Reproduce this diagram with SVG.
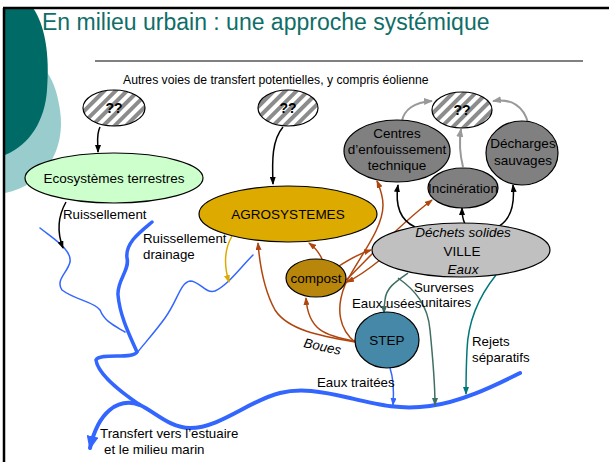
<svg xmlns="http://www.w3.org/2000/svg" width="609" height="462" viewBox="0 0 609 462">
<defs>
<style>
text{font-family:"Liberation Sans",Arial,sans-serif;fill:#000}
.lbl{font-size:13.3px}
.nt{font-size:13.5px;text-anchor:middle}
.q{font-size:14px;font-weight:bold;text-anchor:middle}
.it{font-style:italic}
.node{stroke:#000;stroke-width:1.2}
.c{fill:none;stroke-width:1.5}
.blk{stroke:#000}
.brn{stroke:#b0460e}
.tl1{stroke:#3f6e62}
.tl2{stroke:#00787a}
.blu{stroke:#3366ff}
.yel{stroke:#ddaa00}
.gry{stroke:#999;stroke-width:2}
</style>
<pattern id="hatch" width="8" height="8" patternUnits="userSpaceOnUse" patternTransform="rotate(45)">
<rect width="8" height="8" fill="#fff"/>
<rect width="4" height="8" fill="#8c8c8c"/>
</pattern>
<marker id="mBlk" markerUnits="userSpaceOnUse" markerWidth="8" markerHeight="6" refX="7" refY="3" orient="auto"><path d="M0,0 L8,3 L0,6 Z" fill="#000"/></marker>
<marker id="mBrn" markerUnits="userSpaceOnUse" markerWidth="8" markerHeight="6" refX="7" refY="3" orient="auto"><path d="M0,0 L8,3 L0,6 Z" fill="#b0460e"/></marker>
<marker id="mTl1" markerUnits="userSpaceOnUse" markerWidth="8" markerHeight="6" refX="7" refY="3" orient="auto"><path d="M0,0 L8,3 L0,6 Z" fill="#3f6e62"/></marker>
<marker id="mTl2" markerUnits="userSpaceOnUse" markerWidth="8" markerHeight="6" refX="7" refY="3" orient="auto"><path d="M0,0 L8,3 L0,6 Z" fill="#00787a"/></marker>
<marker id="mBlu" markerUnits="userSpaceOnUse" markerWidth="8" markerHeight="6" refX="7" refY="3" orient="auto"><path d="M0,0 L8,3 L0,6 Z" fill="#3366ff"/></marker>
<marker id="mYel" markerUnits="userSpaceOnUse" markerWidth="8" markerHeight="6" refX="7" refY="3" orient="auto"><path d="M0,0 L8,3 L0,6 Z" fill="#ddaa00"/></marker>
<marker id="mGry" markerUnits="userSpaceOnUse" markerWidth="9" markerHeight="7" refX="8" refY="3.5" orient="auto"><path d="M0,0 L9,3.5 L0,7 Z" fill="#999"/></marker>
<marker id="mRiver" markerUnits="userSpaceOnUse" markerWidth="14" markerHeight="12" refX="12" refY="6" orient="auto"><path d="M0,0 L14,6 L0,12 Z" fill="#3366ff"/></marker>
</defs>
<rect width="609" height="462" fill="#fff"/>
<!-- slide decoration -->
<g id="decor">
<path d="M5,60 C40,50 55,75 60,110 C66,150 45,185 5,193 Z" fill="#99cccc"/>
<path d="M5,8 L33,8 C45,25 50,55 47,90 C45,120 30,145 5,155 Z" fill="#006a66"/>
<line x1="3" y1="8" x2="609" y2="8" stroke="#000" stroke-width="2.5"/>
<line x1="4" y1="8" x2="4" y2="462" stroke="#000" stroke-width="2.5"/>
<line x1="95" y1="61" x2="583" y2="61" stroke="#808080" stroke-width="2"/>
<text x="42" y="30" style="font-size:23px;fill:#0f6e68">En milieu urbain : une approche systémique</text>
<text x="123" y="84" style="font-size:12.2px">Autres voies de transfert potentielles, y compris éolienne</text>
</g>
<!-- rivers -->
<g id="rivers" fill="none" stroke="#3366ff" stroke-linecap="round">
<path d="M40,228 C55,240 72,250 70,262 C68,272 55,280 62,290 C75,300 95,302 100,310 C105,322 115,326 125,332" stroke-width="1.5"/>
<path d="M253,255 C240,268 228,285 215,291 C205,294 200,281 190,281 C180,283 178,300 165,318 C155,332 143,345 137,353" stroke-width="1.5"/>
<path d="M152,222 C140,232 125,243 127,258 C130,270 117,280 118,295 C120,318 132,340 137,352 C133,360 100,352 96,360 C98,375 125,395 140,405" stroke-width="3.5"/>
<path d="M520,373 C490,388 460,402 430,406 C400,410 380,405 350,398 C320,391 300,388 280,393 C250,400 220,428 190,428 C170,428 155,412 140,405 C118,397 98,412 90,448" stroke-width="4" marker-end="url(#mRiver)"/>
</g>
<!-- connectors -->
<g id="connectors">
<path class="c blk" d="M100,127 C96,135 98,142 98,152" marker-end="url(#mBlk)"/>
<path class="c blk" d="M283,127 C272,140 272,160 273,184" marker-end="url(#mBlk)"/>
<path class="c blk" d="M66,202 C57,218 58,235 63,248" marker-end="url(#mBlk)"/>
<path class="c yel" d="M232,236 C224,250 224,266 229,282" marker-end="url(#mYel)"/>
<path class="c brn" d="M355,342 C320,336 288,330 275,310 C264,290 260,268 258,243" marker-end="url(#mBrn)"/>
<path class="c brn" d="M355,341 C325,336 308,330 306,298" marker-end="url(#mBrn)"/>
<path class="c brn" d="M322,259 C318,250 313,246 309,243" marker-end="url(#mBrn)"/>
<path class="c brn" d="M355,342 C340,330 335,310 345,285 C358,258 383,230 383,205 C383,195 380,188 377,181" marker-end="url(#mBrn)"/>
<path class="c brn" d="M346,280 C365,262 395,228 432,200" marker-end="url(#mBrn)"/>
<path class="c brn" d="M336,268 C348,260 358,254 371,250" marker-end="url(#mBrn)"/>
<path class="c brn" d="M380,260 C370,268 360,276 347,282" marker-end="url(#mBrn)"/>
<path class="c blk" d="M415,227 C400,220 395,205 398,185" marker-end="url(#mBlk)"/>
<path class="c blk" d="M465,224 C462,218 462,214 462,208" marker-end="url(#mBlk)"/>
<path class="c blk" d="M498,227 C510,220 515,205 513,185" marker-end="url(#mBlk)"/>
<path class="c gry" d="M463,167 C460,155 459,142 461,129" marker-end="url(#mGry)"/>
<path class="c gry" d="M402,121 C404,110 414,102 432,101" marker-end="url(#mGry)"/>
<path class="c gry" d="M528,123 C524,107 512,98 493,101" marker-end="url(#mGry)"/>
<path class="c tl1" d="M408,273 C395,282 386,288 385,300 C384,306 384,308 384,313" marker-end="url(#mTl1)"/>
<path class="c tl1" d="M398,278 C415,290 428,305 430,330 C433,360 435,385 435,405" marker-end="url(#mTl1)"/>
<path class="c tl2" d="M496,275 C480,295 468,320 467,350 C466,370 466,380 466,394" marker-end="url(#mTl2)"/>
<path class="c blu" d="M390,368 C394,380 394,392 393,405" marker-end="url(#mBlu)"/>
</g>
<!-- nodes -->
<g id="q1"><ellipse class="node" cx="114" cy="108" rx="31" ry="18" fill="url(#hatch)"/><text class="q" x="114" y="113">??</text></g>
<g id="q2"><ellipse class="node" cx="288" cy="108" rx="30" ry="18" fill="url(#hatch)"/><text class="q" x="288" y="113">??</text></g>
<g id="q3"><ellipse class="node" cx="462" cy="110" rx="30" ry="18" fill="url(#hatch)"/><text class="q" x="462" y="115">??</text></g>
<g id="eco"><ellipse class="node" cx="114" cy="178" rx="89" ry="25" fill="#ccffcc"/><text class="nt" x="114" y="183">Ecosystèmes terrestres</text></g>
<g id="agro"><ellipse class="node" cx="288" cy="214" rx="89" ry="28" fill="#ddaa00"/><text class="nt" x="288" y="219">AGROSYSTEMES</text></g>
<g id="compost"><ellipse class="node" cx="316" cy="278" rx="30" ry="19" fill="#b8860b"/><text class="nt" x="316" y="283">compost</text></g>
<g id="step"><ellipse class="node" cx="387" cy="340" rx="32" ry="28" fill="#4588a8"/><text class="nt" x="387" y="345">STEP</text></g>
<g id="ville"><ellipse class="node" cx="461" cy="250" rx="89" ry="27" fill="#c0c0c0"/><text class="nt it" x="463" y="237">Déchets solides</text><text class="nt" x="462" y="256">VILLE</text><text class="nt it" x="463" y="274">Eaux</text></g>
<g id="centres"><ellipse class="node" cx="397" cy="151" rx="53" ry="31" fill="#808080"/><text class="nt" x="397" y="138">Centres</text><text class="nt" x="397" y="154">d’enfouissement</text><text class="nt" x="397" y="170">technique</text></g>
<g id="incin"><ellipse class="node" cx="463" cy="188" rx="35" ry="20" fill="#808080"/><text class="nt" x="463" y="193">Incinération</text></g>
<g id="decharges"><ellipse class="node" cx="522" cy="153" rx="36" ry="32" fill="#808080"/><text class="nt" x="523" y="148">Décharges</text><text class="nt" x="523" y="165">sauvages</text></g>
<!-- labels -->
<g id="labels">
<text class="lbl" x="63" y="219">Ruissellement</text>
<text class="lbl" x="143" y="243">Ruissellement</text>
<text class="lbl" x="143" y="259">drainage</text>
<text class="lbl it" x="303" y="347" transform="rotate(12 303 347)">Boues</text>
<text class="lbl" x="352" y="308">Eaux usées</text>
<text class="lbl" x="414" y="292">Surverses</text>
<text class="lbl" x="421" y="307">unitaires</text>
<text class="lbl" x="472" y="346">Rejets</text>
<text class="lbl" x="472" y="362">séparatifs</text>
<text class="lbl" x="317" y="387">Eaux traitées</text>
<text class="lbl" x="100" y="438">Transfert vers l’estuaire</text>
<text class="lbl" x="104" y="454">et le milieu marin</text>
</g>
</svg>
